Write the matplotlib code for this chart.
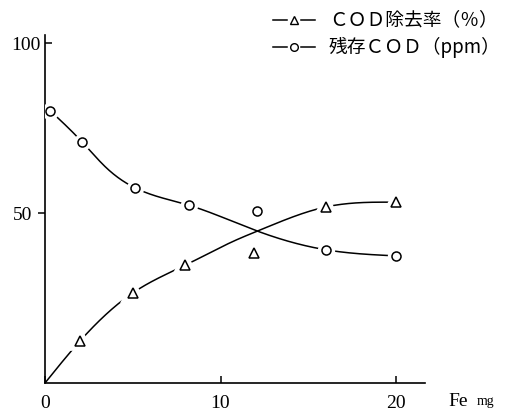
import numpy as np
import matplotlib
matplotlib.use("Agg")
import matplotlib.pyplot as plt
from matplotlib.lines import Line2D
import matplotlib.lines as mlines
import matplotlib.transforms as mtransforms

# ---- data ----
fe_removal = [2.0, 5.0, 8.0, 11.9, 16.0, 20.0]
cod_removal = [12.4, 26.5, 34.7, 38.2, 51.8, 53.2]
fe_resid = [0.3, 2.1, 5.1, 8.2, 12.1, 16.0, 20.0]
cod_resid = [80.1, 71.0, 57.5, 52.3, 50.6, 39.2, 37.4]

# hand-drawn fitted curves (knots)
curve_removal_x = [0.0, 2.0, 5.0, 8.0, 10.9, 12.1, 16.0, 20.0]
curve_removal_y = [0.0, 12.4, 26.5, 34.7, 42.1, 44.7, 51.8, 53.2]
curve_resid_x = [0.3, 2.1, 3.5, 5.1, 8.2, 12.1, 16.0, 20.0]
curve_resid_y = [80.1, 71.0, 63.3, 57.5, 52.3, 44.7, 39.2, 37.4]

xticks = [0, 10, 20]
xticklabels = ["0", "10", "20"]
yticks = [50, 100]
yticklabels = ["50", "100"]
legend_labels = ["ＣＯＤ除去率（％）", "残存ＣＯＤ（ppm）"]


def natural_spline(x, y, xs):
    x = np.asarray(x, float); y = np.asarray(y, float)
    n = len(x); h = np.diff(x)
    A = np.zeros((n, n)); b = np.zeros(n)
    A[0, 0] = 1; A[-1, -1] = 1
    for i in range(1, n - 1):
        A[i, i - 1] = h[i - 1]; A[i, i] = 2 * (h[i - 1] + h[i]); A[i, i + 1] = h[i]
        b[i] = 6 * ((y[i + 1] - y[i]) / h[i] - (y[i] - y[i - 1]) / h[i - 1])
    M = np.linalg.solve(A, b)
    out = np.empty_like(xs)
    for j, xv in enumerate(xs):
        k = min(max(np.searchsorted(x, xv) - 1, 0), n - 2)
        a = x[k + 1] - xv; c = xv - x[k]
        out[j] = (M[k] * a**3 / (6 * h[k]) + M[k + 1] * c**3 / (6 * h[k])
                  + (y[k] / h[k] - M[k] * h[k] / 6) * a + (y[k + 1] / h[k] - M[k + 1] * h[k] / 6) * c)
    return out


plt.rcParams['font.family'] = ['Liberation Serif', 'Noto Sans CJK JP']
fig = plt.figure(figsize=(5.10, 4.13), dpi=100)
ax = fig.add_axes([45 / 510, 1 - 383 / 413, 380 / 510, 348 / 413])

xs1 = np.linspace(curve_removal_x[0], curve_removal_x[-1], 400)
xs2 = np.linspace(curve_resid_x[0], curve_resid_x[-1], 400)
ax.plot(xs1, natural_spline(curve_removal_x, curve_removal_y, xs1), color='black', lw=1.1, zorder=2)
ax.plot(xs2, natural_spline(curve_resid_x, curve_resid_y, xs2), color='black', lw=1.1, zorder=2)

# white halos for gaps around markers
ax.plot(fe_removal, cod_removal, ls='none', marker='^', ms=7, mfc='white', mec='white', mew=7, zorder=3)
ax.plot(fe_resid, cod_resid, ls='none', marker='o', ms=6.5, mfc='white', mec='white', mew=6, zorder=3)
ax.plot(fe_removal, cod_removal, ls='none', marker='^', ms=7, mfc='white', mec='black', mew=1.1, zorder=4, clip_on=False)
ax.plot(fe_resid, cod_resid, ls='none', marker='o', ms=6.5, mfc='white', mec='black', mew=1.1, zorder=4, clip_on=False)

ax.set_xlim(0, 21.65)
ax.set_ylim(0, 102.4)
for s in ['top', 'right']:
    ax.spines[s].set_visible(False)
for s in ['left', 'bottom']:
    ax.spines[s].set_linewidth(1.2)

ax.set_xticks(xticks)
ax.set_xticklabels(xticklabels)
ax.set_yticks(yticks)
ax.set_yticklabels(yticklabels)
ax.tick_params(direction='in', length=5, width=1.1, labelsize=14)
ax.tick_params(axis='x', pad=9)
ax.tick_params(axis='y', pad=3)
# the 50 tick points outward in the reference
t50 = ax.yaxis.get_major_ticks()[0]
t50.tick1line.set_marker(mlines.TICKLEFT)
t50.label1.set_transform(t50.label1.get_transform() +
                         mtransforms.ScaledTranslation(-6 / 72, 0, fig.dpi_scale_trans))

fig.text(448 / 510, 1 - 402 / 413, "Fe", fontsize=14, va='center', ha='left')
fig.text(477 / 510, 1 - 401 / 413, "mg", fontsize=10, va='center', ha='left')

# legend drawn manually (figure coordinates)
rows_y = [20, 47]
markers = ['^', 'o']
msizes = [6, 5.5]
for ry, mk, msz, lab in zip(rows_y, markers, msizes, legend_labels):
    yf = 1 - ry / 413
    fig.add_artist(Line2D([273 / 510, 287 / 510], [yf, yf], color='black', lw=1.1))
    fig.add_artist(Line2D([301 / 510, 315 / 510], [yf, yf], color='black', lw=1.1))
    fig.add_artist(Line2D([294 / 510], [yf], ls='none', marker=mk, ms=msz, mfc='white', mec='black', mew=1.0))
    fig.text(329 / 510, yf, lab, fontsize=13.5, va='center', ha='left',
             family=['Noto Sans CJK JP'])

fig.savefig("out.png", dpi=100)
